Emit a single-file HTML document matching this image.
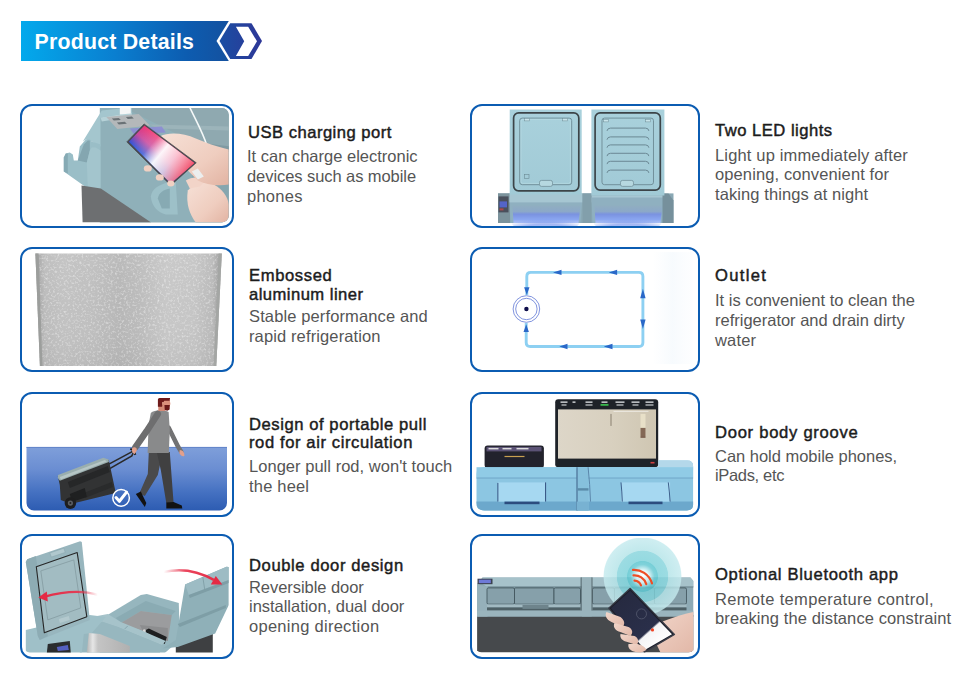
<!DOCTYPE html>
<html><head><meta charset="utf-8">
<style>
*{margin:0;padding:0;box-sizing:border-box}
html,body{width:963px;height:680px;background:#fff;overflow:hidden}
body{position:relative;font-family:"Liberation Sans",sans-serif}
.abs{position:absolute}
.banner{position:absolute;left:21px;top:21px;width:208px;height:40px;background:linear-gradient(90deg,#03a9ec 0%,#0a7fd0 45%,#0d5cb0 80%,#14519f 100%)}
.banner span{position:absolute;left:13.6px;top:8.6px;letter-spacing:0.22px;color:#fff;font-weight:bold;font-size:21.3px;line-height:24px;white-space:nowrap}
.card{position:absolute;border:2px solid #0b5cb2;border-radius:12px;overflow:hidden;background:#fff}
.L{left:20.2px;width:213.6px}
.R{left:469.5px;width:230px}
.r1{top:103.6px;height:124.4px}
.r2{top:246.9px;height:125px}
.r3{top:392.1px;height:124.8px}
.r4{top:534.1px;height:124.7px}
.card svg{position:absolute;left:-2px;top:-2px}
.t{position:absolute;font-size:16.6px;letter-spacing:0.45px;-webkit-text-stroke:0.45px #1c1c1c;line-height:18.5px;color:#1c1c1c;white-space:nowrap}
.d{position:absolute;font-size:16.5px;line-height:19.7px;color:#555;white-space:nowrap}
</style></head><body>
<div class="banner"><span>Product Details</span></div>
<svg class="abs" style="left:210px;top:15px" width="60" height="52" viewBox="210 15 60 52">
  <defs><linearGradient id="hg" x1="0" x2="1"><stop offset="0" stop-color="#1a4ea3"/><stop offset="1" stop-color="#2e3797"/></linearGradient></defs>
  <polygon points="216.5,41 228.8,21 250,21 262.5,41 250,61 228.8,61" fill="#fff"/>
  <polygon points="219.5,41 230.2,23.2 251.5,23.2 262,41 251.5,59 230.2,59" fill="url(#hg)"/>
  <polygon points="235.9,26.8 248.2,26.8 257,41.3 248.2,55.9 235.9,55.9 244.2,41.3" fill="#fff"/>
</svg>

<!-- CARD1 -->
<div class="card L r1"><svg width="213.6" height="124.4" viewBox="20.2 103.6 213.6 124.4">
<defs>
<clipPath id="c1"><rect x="24" y="107.5" width="205" height="114.5" rx="7"/></clipPath>
<linearGradient id="ph1" gradientUnits="userSpaceOnUse" x1="145" y1="124" x2="129" y2="142">
<stop offset="0" stop-color="#f0306e"/><stop offset="0.5" stop-color="#c8449a"/><stop offset="1" stop-color="#2650d8"/></linearGradient>
<linearGradient id="ph1b" gradientUnits="userSpaceOnUse" x1="136" y1="132" x2="186" y2="174">
<stop offset="0" stop-color="#fff" stop-opacity="0"/><stop offset="0.3" stop-color="#fff" stop-opacity="0.2"/><stop offset="0.5" stop-color="#fff" stop-opacity="0.95"/><stop offset="0.7" stop-color="#ffe8ea" stop-opacity="0.8"/><stop offset="1" stop-color="#f2506a" stop-opacity="0.95"/></linearGradient>
<linearGradient id="sk1" x1="0" y1="0" x2="1" y2="1"><stop offset="0" stop-color="#f6e0d6"/><stop offset="0.6" stop-color="#efcdbf"/><stop offset="1" stop-color="#e2b3a2"/></linearGradient>
</defs>
<g clip-path="url(#c1)">
<!-- body face + side -->
<rect x="100" y="107" width="130" height="116" fill="#8fb0b9"/>
<!-- lid top (back) -->
<polygon points="128,107 230,107 230,151 188,149 178,134 132,111" fill="#8fa9b0"/>
<polygon points="150,124 230,126 230,130 158,128" fill="#9cb4ba"/>
<polygon points="188,141 230,146 230,152 190,149" fill="#7f9aa2"/>
<!-- right side darker -->
<polygon points="190,149 230,152 230,222 196,222" fill="#86a6af"/>
<!-- cable -->
<path d="M190,107 C197,122 203,132 207,145 C212,160 215,178 212,198" fill="none" stroke="#f4f8f8" stroke-width="1.6"/>
<!-- top slope surface -->
<polygon points="83,141 102,110 132,107 132,112 100.7,117 100.7,146 92,141 86,139" fill="#a4c6ce"/>
<polygon points="100.7,117 132,112 132,116 102,121" fill="#b6d2d8"/>
<!-- control panel -->
<polygon points="120,107 131,107 131,113 120,114" fill="#f4f6f6"/>
<polygon points="106.5,116.5 139,113.5 150,125 117.5,128.5" fill="#b4b8ba"/>
<polygon points="112,118 119,117.5 121,119.5 114,120" fill="#6a7276"/>
<polygon points="117,122 125,121.3 127,123.4 119,124" fill="#6a7276"/>
<polygon points="126,116.5 132,116 134,118 128,118.5" fill="#6a7276"/>
<polygon points="130,128 162,126 166,132 134,133.5" fill="#8c8ad6" opacity="0.85"/>
<!-- left cup holder -->
<polygon points="64,157 66,153 70,152 73,154 74,160 78,160 80,146 86,139 90,139 92,141 100.7,144 100.7,190 88,188 64,171" fill="#9abec7"/>
<polygon points="64,157 66,153 68,153 68,173 64,171" fill="#86aab4"/>
<polygon points="78,160 84,144 88,140 90,140 90,150 87,162" fill="#84a6b0"/>
<polygon points="87,162 90,150 92,147 96,147 100.7,150 100.7,190 88,188" fill="#a3c5cd"/>
<!-- dark fabric -->
<polygon points="81.7,185 101,188 151.3,222 82.8,222" fill="#6d6f71"/>
<!-- right cup holder -->
<path d="M151,196 C152,188 160,184 168,182 L176,182 L178,214 L166,214 C158,212 152,206 151,196Z" fill="#9dc0c8"/>
<path d="M158,198 C159,192 164,189 170,188 L170,208 L162,208 Z" fill="#87aab3"/>
<!-- lower hand -->
<path d="M188,190 C195,182 206,180 214,184 C222,188 228,196 229,204 L229,222 L196,222 C190,214 186,204 188,190Z" fill="url(#sk1)"/>
<path d="M186,180 C192,176 200,176 206,180 L200,186 L190,188Z" fill="#f2d4c8"/>
<!-- upper hand/wrist -->
<path d="M160,136 C170,131 184,133 196,138 C206,142 216,146 229,149 L229,184 C218,186 206,184 198,180 L186,168 C178,158 168,146 160,136Z" fill="url(#sk1)"/>
<!-- phone -->
<polygon points="127,141.5 144.3,123.5 196.5,162.4 171,185" fill="#48484e" stroke="#48484e" stroke-width="0.6" stroke-linejoin="round"/>
<polygon points="129,141.4 144.6,125.2 194.5,162.5 171,183" fill="url(#ph1)"/>
<polygon points="129,141.4 144.6,125.2 194.5,162.5 171,183" fill="url(#ph1b)"/>
<!-- fingertips -->
<ellipse cx="148" cy="168" rx="4" ry="3.2" fill="#f0d0c2"/>
<ellipse cx="160" cy="177" rx="4" ry="3.2" fill="#f0d0c2"/>
<ellipse cx="171" cy="183" rx="3.6" ry="3" fill="#f0d0c2"/>
<!-- plug -->
<polygon points="192,171 198,168 204,176 198,179" fill="#eceeee"/>
</g>

</svg></div>
<!-- CARD2 -->
<div class="card L r2"><svg width="213.6" height="125" viewBox="20.2 246.9 213.6 125">
<defs>
<linearGradient id="al" gradientUnits="userSpaceOnUse" x1="35.6" y1="0" x2="222" y2="0">
<stop offset="0" stop-color="#959595"/><stop offset="0.02" stop-color="#aaaaaa"/><stop offset="0.05" stop-color="#bcbcbc"/>
<stop offset="0.15" stop-color="#c2c2c2"/><stop offset="0.3" stop-color="#bfbfbf"/><stop offset="0.45" stop-color="#b7b7b7"/>
<stop offset="0.55" stop-color="#bbbbbb"/><stop offset="0.7" stop-color="#c7c7c7"/><stop offset="0.85" stop-color="#c5c5c5"/>
<stop offset="0.95" stop-color="#bababa"/><stop offset="0.975" stop-color="#a9a9a9"/><stop offset="1" stop-color="#a0a0a0"/></linearGradient>
<linearGradient id="alv" x1="0" y1="0" x2="0" y2="1">
<stop offset="0" stop-color="#fff" stop-opacity="0.05"/><stop offset="0.5" stop-color="#fff" stop-opacity="0"/><stop offset="1" stop-color="#000" stop-opacity="0.03"/></linearGradient>
<filter id="nz" x="0" y="0" width="1" height="1"><feTurbulence type="fractalNoise" baseFrequency="0.45" numOctaves="2" seed="3" result="n"/>
<feColorMatrix in="n" type="matrix" values="0 0 0 0 1  0 0 0 0 1  0 0 0 0 1  0 0 0 1.1 -0.55" result="w"/>
<feComposite in="w" in2="SourceGraphic" operator="in" result="wc"/>
<feMerge><feMergeNode in="SourceGraphic"/><feMergeNode in="wc"/></feMerge></filter>
</defs>
<polygon points="35.6,253.3 222,253.3 216.5,365.8 40.1,365.8" fill="url(#al)" filter="url(#nz)"/>
<polygon points="35.6,253.3 222,253.3 216.5,365.8 40.1,365.8" fill="url(#alv)"/>
<polygon points="35.6,253.3 38.8,253.3 42.6,365.8 40.1,365.8" fill="#9c9e9c"/>
<polygon points="218.8,253.3 222,253.3 216.5,365.8 213.8,365.8" fill="#a4a6a4"/>

</svg></div>
<!-- CARD3 -->
<div class="card L r3"><svg width="213.6" height="124.8" viewBox="20.2 392.1 213.6 124.8">
<defs>
<linearGradient id="fl" x1="0" y1="0" x2="0" y2="1">
<stop offset="0" stop-color="#7f9fda"/><stop offset="0.35" stop-color="#6b8ed2"/><stop offset="0.7" stop-color="#4672c2"/><stop offset="1" stop-color="#2d5cb2"/></linearGradient>
</defs>
<!-- floor -->
<path d="M26.7,447 H227.2 V503 A7.5,7.5 0 0 1 219.7,510.5 H34.2 A7.5,7.5 0 0 1 26.7,503 Z" fill="url(#fl)"/>
<rect x="26.7" y="447" width="200.5" height="1" fill="#6283c8"/>
<!-- handle -->
<path d="M104,467 L131,452.5 L133.5,451" stroke="#2a2a2a" stroke-width="1.6" fill="none"/>
<path d="M106,471 L132,456 L134,452" stroke="#2a2a2a" stroke-width="1.6" fill="none"/>
<path d="M130.5,449 L134,450.5 L135.5,455" stroke="#222" stroke-width="2" fill="none"/>
<!-- cooler body -->
<polygon points="58,476 104,459 109,460 116,493 71,504 61,500 60,485" fill="#323334"/>
<polygon points="68,482 108,466 110,472 70,488" fill="#262728"/>
<polygon points="84,493 112,482 113,487 85,498" fill="#2a2b2c"/>
<!-- lid -->
<polygon points="58.2,475 103.5,457.8 108.9,459.7 109,462 60.1,480.8 58,478" fill="#9aaeae"/>
<polygon points="60,477 105,460 107,461.5 61,479.5" fill="#b6c6c6"/>
<!-- vent texture -->
<polygon points="70,494 85,488 87,497 72,502" fill="#1f2021"/>
<!-- wheel -->
<circle cx="70.6" cy="503.2" r="5.8" fill="#1e1e1f"/>
<circle cx="70.6" cy="503.2" r="2.6" fill="#5a5d62"/>
<circle cx="70.6" cy="503.2" r="1" fill="#222"/>
<!-- checkmark -->
<circle cx="121.3" cy="498" r="8.3" fill="none" stroke="#fff" stroke-width="1.5"/>
<path d="M116.2,497.6 L119.6,501.4 L126.8,492.2" stroke="#fff" stroke-width="3" fill="none" stroke-linecap="round" stroke-linejoin="round"/>
<!-- person: far arm -->
<path d="M169,428 L178.4,447 L181.5,452" stroke="#727273" stroke-width="4.6" fill="none" stroke-linecap="round" stroke-linejoin="round"/>
<path d="M180,450 C183,450 185,453 184.5,456 C182.5,457 180.5,455 179.5,453Z" fill="#e3a08c"/>
<!-- legs -->
<path d="M149,452 L163,452 L158,475 L145,496 L139.5,493.5 L148,474Z" fill="#4a4a4b"/>
<path d="M157,452 L170,452 L173.8,503 L166.5,503 L161,470Z" fill="#404041"/>
<!-- shoes -->
<path d="M136,494 L141,491.5 L146.5,503 L145,507 Z" fill="#121212"/>
<path d="M166.5,502.5 L173.8,502 L182,505.5 L182.5,508.5 L166.5,508.5 Z" fill="#121212"/>
<!-- torso -->
<path d="M151,413 C154,409.5 165,409.5 168.8,412 L170,430 L169,453 L147.8,453 L148.8,425 Z" fill="#898a8b"/>
<!-- near arm -->
<path d="M158,414 L147,431 L135.5,447.5" stroke="#6e6e6f" stroke-width="6.5" fill="none" stroke-linecap="round" stroke-linejoin="round"/>
<path d="M132.5,448 C134.5,446.5 137.5,447.5 137,450.5 L135,454 C133,454 131.5,451 132.5,448Z" fill="#e3a08c"/>
<!-- neck/head -->
<path d="M158.5,404 L165.5,404 L165.5,411 L158.5,411 Z" fill="#d48a76"/>
<path d="M163,400 L170,400 L170.6,404 L169.8,406.5 L164,406.5 Z" fill="#dc907c"/>
<path d="M158.1,399.5 Q158.5,398.2 160,398.2 H170.3 L169.8,400.8 H164.5 L163.8,402 L162.8,402 L162.3,406.8 L158.1,406.8 Z" fill="#6e1a1a"/>
<path d="M162.4,402 L164,402 L164,405 L162.4,405 Z" fill="#d48a76"/>
<path d="M164.6,405.2 L170,405.2 L169.8,409.5 L167.5,410.8 L165,410.2 Z" fill="#6a1818"/>

</svg></div>
<!-- CARD4 -->
<div class="card L r4"><svg width="213.6" height="124.7" viewBox="20.2 534.1 213.6 124.7">
<defs>
<clipPath id="c4"><rect x="24" y="538" width="205" height="114.6" rx="6"/></clipPath>
<linearGradient id="ra1" gradientUnits="userSpaceOnUse" x1="98" y1="595" x2="40" y2="597"><stop offset="0" stop-color="#e8304a" stop-opacity="0"/><stop offset="0.35" stop-color="#e8304a" stop-opacity="0.9"/><stop offset="1" stop-color="#e52a45"/></linearGradient>
<linearGradient id="ra2" gradientUnits="userSpaceOnUse" x1="164" y1="572" x2="222" y2="584"><stop offset="0" stop-color="#e8304a" stop-opacity="0"/><stop offset="0.35" stop-color="#e8304a" stop-opacity="0.9"/><stop offset="1" stop-color="#e52a45"/></linearGradient>
<linearGradient id="ss" gradientUnits="userSpaceOnUse" x1="87" y1="0" x2="130" y2="0"><stop offset="0" stop-color="#b4b4b4"/><stop offset="0.14" stop-color="#e6e6e6"/><stop offset="0.26" stop-color="#c4c4c4"/><stop offset="0.6" stop-color="#bbbbbb"/><stop offset="1" stop-color="#b0b0b0"/></linearGradient>
</defs>
<g clip-path="url(#c4)">
<!-- right dark base -->
<polygon points="176,636 213,632 213,653 176,653" fill="#3e4042"/>
<!-- middle compartment -->
<polygon points="106,616 141,595 147,594 179,603 180,640 165,653 100,653 92,634" fill="#96b6be"/>
<polygon points="116,618 146,601 176,611 172,615 141,611 121,623" fill="#8aabb3"/>
<polygon points="121,623 141,611 172,615 168,641 143,631" fill="#9b9c9e"/>
<polygon points="140,625 168,628 168,641 143,631" fill="#8c8d8f"/>
<polygon points="144,631 149,628.5 167,637 165,644" fill="#1e1f20"/>
<circle cx="144.5" cy="631" r="1.6" fill="#d8d8d8"/>
<polygon points="92,617 108,614 121,622 143,631 166,641 162,645 140,636 118,627 100,621" fill="#a6c3ca"/>
<polygon points="80,627 92,617 100,621 118,627 140,636 162,645 160,653 80,653" fill="#97b7bf"/>
<line x1="125" y1="629" x2="128" y2="626" stroke="#7c9ca4" stroke-width="0.8"/>
<!-- right lid -->
<polygon points="185.3,584.7 226.7,566.8 229,567 229,605 215.4,633.7 178,647 162.7,648.7 176,640" fill="#8fb0b8"/>
<polygon points="185.3,584.7 226.7,566.8 229,567 229,580 218,584 189,595" fill="#9dbcc4"/>
<polygon points="189,595 229,580 229,583 190,598" fill="#7e9ea6"/>
<polygon points="178,624 226,605 226,608 180,627" fill="#7e9ea6"/>
<line x1="203" y1="577" x2="205" y2="590" stroke="#7c9aa2" stroke-width="0.8"/>
<!-- left stainless interior -->

<!-- left front rim / base -->
<polygon points="26,630 90,615 106,617 92,633 84,634 82,653 26,653" fill="#9fc0c8"/>
<polygon points="89,633 100,634 130,646 130,653 87,653" fill="url(#ss)"/>
<polygon points="48,644 70,641 71,653 47,653" fill="#2a2c2e"/>
<polygon points="57,647 68,645 69,650 58,651" fill="#5560c0"/>
<!-- left lid -->
<polygon points="27.5,559.3 80.3,541.4 82,542 90,620 40,640 38,636 26,562" fill="#98b6be"/>
<polygon points="27.5,559.3 36,556 48,636 40,640 38,636 26,562" fill="#8dacb4"/>
<polygon points="36.5,566.8 77.4,552.7 87,616.8 44.5,632.8" fill="#a2bcc2" stroke="#262626" stroke-width="1.1" stroke-linejoin="round"/>
<polygon points="41,571 74,560 81,608 48,620" fill="none" stroke="#7f979c" stroke-width="0.7"/>
<polygon points="50,553 64,548.3 65.5,552.5 51.5,557.2" fill="#b0c8ce" stroke="#86a2a9" stroke-width="0.5"/>
<polygon points="59,619 69,616 70,620 60,623" fill="#b3c9ce"/>
<!-- arrows -->
<path d="M98,595 C82,590 62,592 44,597" stroke="url(#ra1)" stroke-width="2.4" fill="none"/>
<polygon points="38.5,597.5 47,591.5 48,601.5" fill="#e52a45"/>
<path d="M164,572 C182,568 200,572 214,580" stroke="url(#ra2)" stroke-width="2.4" fill="none"/>
<polygon points="222.5,584.5 211,584.5 216,576" fill="#e52a45"/>
</g>

</svg></div>
<!-- CARD5 -->
<div class="card R r1"><svg width="230" height="124.4" viewBox="469.5 103.6 230 124.4">
<defs>
<linearGradient id="lid5" x1="0" y1="0" x2="0" y2="1"><stop offset="0" stop-color="#a9d1dc"/><stop offset="1" stop-color="#a1cad6"/></linearGradient>
<linearGradient id="glow5" x1="0" y1="0" x2="0" y2="1"><stop offset="0" stop-color="#90aec0"/><stop offset="0.35" stop-color="#8ca8c8"/><stop offset="0.5" stop-color="#7a92e0"/><stop offset="0.8" stop-color="#8aa6f0"/><stop offset="1" stop-color="#b0c4f4"/></linearGradient>
<radialGradient id="gl5" cx="0.5" cy="1" r="0.7"><stop offset="0" stop-color="#c6d6ff"/><stop offset="0.6" stop-color="#7d98ee" stop-opacity="0.7"/><stop offset="1" stop-color="#7d98ee" stop-opacity="0"/></radialGradient>
</defs>
<!-- base -->
<rect x="497.5" y="193" width="175.5" height="29.6" fill="#8aa8b4"/>
<rect x="497.5" y="193" width="12" height="29.6" fill="#7c939c"/>
<rect x="498" y="196" width="10" height="16" fill="#4a505c"/>
<rect x="499" y="201" width="7.5" height="6" fill="#5464c8"/>
<rect x="499" y="208" width="4" height="2" fill="#b04848"/>
<!-- left compartment interior -->
<polygon points="509,197 582,197 580,222.6 510,222.6" fill="#8fb0c0"/>
<polygon points="512,205 580,205 578,222.6 513,222.6" fill="url(#glow5)"/>
<ellipse cx="545" cy="222" rx="34" ry="10" fill="url(#gl5)"/>
<rect x="509" y="193" width="73" height="9" fill="#a6c6d2"/>
<rect x="591" y="195" width="72" height="7" fill="#a6c6d2"/>
<!-- divider -->
<rect x="582" y="193" width="9" height="29.6" fill="#829fab"/>
<!-- right compartment interior -->
<polygon points="591,197 664,197 662,222.6 592,222.6" fill="#8fb0c0"/>
<polygon points="594,205 662,205 660,222.6 595,222.6" fill="url(#glow5)"/>
<ellipse cx="627" cy="222" rx="34" ry="10" fill="url(#gl5)"/>
<!-- right side -->
<polygon points="662,193 668,193 673,200 673,222.6 662,222.6" fill="#76909c"/>
<!-- left lid -->
<rect x="509.2" y="109.1" width="72" height="85" fill="url(#lid5)"/>
<rect x="513.1" y="112.5" width="65.2" height="77.9" rx="5" fill="none" stroke="#3c4448" stroke-width="1.7"/>
<rect x="519.2" y="117.7" width="52" height="66.6" rx="2.5" fill="none" stroke="#6c8a94" stroke-width="0.9"/>
<rect x="520.5" y="119" width="49.4" height="64" rx="2" fill="none" stroke="#bfe0e8" stroke-width="0.5"/>
<rect x="524" y="118" width="5" height="2.5" fill="#c8e4ea" stroke="#6c8a94" stroke-width="0.5"/>
<rect x="562" y="118" width="5" height="2.5" fill="#c8e4ea" stroke="#6c8a94" stroke-width="0.5"/>
<rect x="524" y="174" width="4.5" height="4" fill="none" stroke="#6c8a94" stroke-width="0.6"/>
<rect x="539" y="180" width="13" height="6" rx="2" fill="#b6d8e0" stroke="#6c8a94" stroke-width="0.7"/>
<!-- right lid -->
<rect x="590.9" y="109.1" width="73" height="86" fill="url(#lid5)"/>
<rect x="594.6" y="112.5" width="65.2" height="77.2" rx="5" fill="none" stroke="#3c4448" stroke-width="1.7"/>
<rect x="601.5" y="117.7" width="51.5" height="66.6" rx="2.5" fill="none" stroke="#6c8a94" stroke-width="0.9"/>
<rect x="603" y="119" width="5" height="2.5" fill="#c8e4ea" stroke="#6c8a94" stroke-width="0.5"/>
<rect x="645" y="119" width="5" height="2.5" fill="#c8e4ea" stroke="#6c8a94" stroke-width="0.5"/>
<g fill="none" stroke="#6a8894" stroke-width="1">
<path d="M606.5,130.5 Q607,127.7 610,127.7 H645 Q648,127.7 648.4,130.5"/>
<path d="M606.5,139.3 Q607,136.5 610,136.5 H645 Q648,136.5 648.4,139.3"/>
<path d="M606.5,147.3 Q607,144.5 610,144.5 H645 Q648,144.5 648.4,147.3"/>
<path d="M606.5,155.7 Q607,152.9 610,152.9 H645 Q648,152.9 648.4,155.7"/>
<path d="M606.5,163.7 Q607,160.9 610,160.9 H645 Q648,160.9 648.4,163.7"/>
<path d="M606.5,172.5 Q607,169.7 610,169.7 H645 Q648,169.7 648.4,172.5"/>
</g>
<rect x="620" y="180" width="13" height="6" rx="2" fill="#b6d8e0" stroke="#6c8a94" stroke-width="0.7"/>

</svg></div>
<!-- CARD6 -->
<div class="card R r2"><svg width="230" height="125" viewBox="469.5 246.9 230 125">
<defs>
<linearGradient id="fa6" x1="0" y1="0" x2="1" y2="0"><stop offset="0" stop-color="#e8f2fb" stop-opacity="0"/><stop offset="0.5" stop-color="#e4f0fa"/><stop offset="1" stop-color="#eef5fc" stop-opacity="0.4"/></linearGradient>
</defs>
<rect x="652" y="252" width="40" height="112" fill="url(#fa6)" opacity="0.3"/>
<path d="M526.3,295 V276.3 Q526.3,272.3 530.3,272.3 H638.4 Q642.4,272.3 642.4,276.3 V342.4 Q642.4,346.4 638.4,346.4 H529.7 Q525.7,346.4 525.7,342.4 V323" fill="none" stroke="#8dd0f2" stroke-width="2.9"/>
<g fill="#2a68c8">
<polygon points="552.5,272.3 561,269.6 561,275"/>
<polygon points="608.2,272.3 616.6,269.6 616.6,275"/>
<polygon points="558.8,346.4 567,343.7 567,349.1"/>
<polygon points="603.2,346.4 612,343.7 612,349.1"/>
<polygon points="526.3,295 523.6,287.2 529,287.2"/>
<polygon points="525.7,324.2 523,332 528.4,332"/>
<polygon points="642.4,288.7 639.7,298.2 645.1,298.2"/>
<polygon points="642.4,328.8 639.7,319.5 645.1,319.5"/>
</g>
<circle cx="525.9" cy="308.9" r="13.3" fill="none" stroke="#4a66d0" stroke-width="0.7"/>
<circle cx="525.9" cy="308.9" r="10.7" fill="none" stroke="#4a66d0" stroke-width="0.7"/>
<circle cx="525.9" cy="308.9" r="2.2" fill="#0e0e4a"/>

</svg></div>
<!-- CARD7 -->
<div class="card R r3"><svg width="230" height="124.8" viewBox="469.5 392.1 230 124.8">
<defs>
<linearGradient id="b7" x1="0" y1="0" x2="0" y2="1"><stop offset="0" stop-color="#93c6e0"/><stop offset="1" stop-color="#86bcd8"/></linearGradient>
<linearGradient id="scr7" x1="0" y1="0" x2="1" y2="0"><stop offset="0" stop-color="#ddd6c8"/><stop offset="0.55" stop-color="#d8d0bf"/><stop offset="1" stop-color="#cfc6b2"/></linearGradient>
</defs>
<!-- tablet -->
<rect x="554.7" y="399.4" width="103" height="68" rx="3" fill="#1e2228"/>
<rect x="557.5" y="409.5" width="98" height="49.2" fill="url(#scr7)"/>
<g fill="#c9ccd0">
<rect x="560" y="401.5" width="7" height="1.5"/><rect x="561" y="404.5" width="5" height="1.2"/>
<rect x="572" y="401.5" width="3" height="1.5"/>
<rect x="585" y="401.5" width="7" height="1.5"/><rect x="585" y="404.5" width="7" height="1.2"/>
<rect x="601" y="401.5" width="6" height="1.5"/>
<rect x="615" y="401.5" width="9" height="1.5"/><rect x="616" y="404.5" width="7" height="1.2"/>
<rect x="631" y="401.5" width="8" height="1.5"/><rect x="632" y="404.5" width="6" height="1.2"/>
<rect x="645" y="401.5" width="8" height="1.5"/><rect x="645" y="404.5" width="8" height="1.2"/>
</g>
<rect x="600" y="404.2" width="8" height="1.6" fill="#3cc850"/>
<rect x="613" y="411" width="35" height="0.8" fill="#fff" opacity="0.7"/>
<rect x="640" y="414" width="5" height="22" fill="#e8e0c8"/>
<rect x="640" y="428" width="5" height="10" fill="#6a4a3a" opacity="0.8"/>
<rect x="610" y="414" width="1" height="12" fill="#8a8070"/>
<rect x="650" y="462" width="4" height="1.6" fill="#d04040"/>
<!-- phone -->
<rect x="484.1" y="445.5" width="59.3" height="22.6" rx="3" fill="#22222c"/>
<rect x="486" y="447" width="55" height="4.5" fill="#6a5f88" opacity="0.8"/>
<rect x="488" y="448" width="10" height="1.5" fill="#ddd"/><rect x="502" y="448" width="9" height="1.5" fill="#ddd"/><rect x="516" y="448" width="12" height="1.5" fill="#ddd"/>
<rect x="504" y="456" width="20" height="1.2" fill="#c8a050"/>
<!-- base -->
<path d="M476,474 Q476,467.3 483,467.3 H658 V460.5 H687 Q692.6,460.5 692.6,466 V504.5 Q692.6,510.6 686.5,510.6 H484 Q476,510.6 476,503 Z" fill="#8cc6e2"/>
<path d="M658,460.5 H687 Q692.6,460.5 692.6,466 V470 H658 Z" fill="#b4d8ea"/>
<rect x="476" y="467.3" width="216.6" height="10.5" fill="#90cbe6"/>
<rect x="476" y="477.6" width="216.6" height="1.1" fill="#74aacb"/>
<path d="M476,501.7 H692.6 V504.5 Q692.6,510.6 686.5,510.6 H484 Q476,510.6 476,503 Z" fill="#6ca8cc"/>
<!-- front panels -->
<rect x="497.3" y="482.5" width="47.5" height="19.2" fill="#a6d8f1"/>
<rect x="620.8" y="482.5" width="48.8" height="19.2" fill="#a6d8f1"/>
<rect x="496.8" y="483" width="1.1" height="18.7" fill="#3e5f8c"/>
<rect x="544.5" y="482.5" width="1.1" height="19.2" fill="#3a5a88"/>
<path d="M620.5,482.5 Q621.5,492 621.8,501.7" stroke="#3e5f8c" stroke-width="1" fill="none"/>
<path d="M667.8,482.5 Q669,492 669.6,501.7" stroke="#3e5f8c" stroke-width="1" fill="none"/>
<rect x="504" y="501.7" width="35" height="2.6" fill="#2c4c7e"/>
<rect x="628" y="501.7" width="34" height="2.6" fill="#2c4c7e"/>
<!-- center divider -->
<rect x="576.2" y="467.3" width="11.8" height="43.3" fill="#86c0dc"/>
<rect x="576" y="467.3" width="1" height="43.3" fill="#3e6088"/>
<path d="M587.6,467.3 Q589.5,485 590,501.7" stroke="#5a86aa" stroke-width="1" fill="none"/>
<rect x="577" y="488.3" width="11" height="2.4" fill="#5a8aa8"/>
<rect x="576.2" y="501.7" width="11.8" height="8.9" fill="#78b2d2"/>

</svg></div>
<!-- CARD8 -->
<div class="card R r4"><svg width="230" height="124.7" viewBox="469.5 534.1 230 124.7">
<defs>
<clipPath id="c8"><rect x="474" y="538" width="221" height="114.5" rx="7"/></clipPath>
<linearGradient id="top8" x1="0" y1="0" x2="0" y2="1"><stop offset="0" stop-color="#a2bcc6"/><stop offset="0.3" stop-color="#8ca8b4"/><stop offset="1" stop-color="#7f9aa6"/></linearGradient>
<radialGradient id="bt8" cx="0.5" cy="0.5" r="0.5">
<stop offset="0" stop-color="#ffffff"/><stop offset="0.15" stop-color="#e0f6f8"/><stop offset="0.3" stop-color="#64c8d2"/><stop offset="0.38" stop-color="#58c4ce"/><stop offset="0.4" stop-color="#7ed2da"/><stop offset="0.64" stop-color="#86d4dc"/><stop offset="0.66" stop-color="#b4e4e8"/><stop offset="0.97" stop-color="#c4eaee"/><stop offset="1" stop-color="#c4eaee" stop-opacity="0"/></radialGradient>
<linearGradient id="sk8" x1="0" y1="0" x2="1" y2="1"><stop offset="0" stop-color="#f2d6ca"/><stop offset="1" stop-color="#e2b8a8"/></linearGradient>
<linearGradient id="ph8" gradientUnits="userSpaceOnUse" x1="618" y1="598" x2="660" y2="645"><stop offset="0" stop-color="#262a40"/><stop offset="0.7" stop-color="#2a2f4a"/><stop offset="0.73" stop-color="#f4f4f6"/><stop offset="1" stop-color="#ffffff"/></linearGradient>
</defs>
<g clip-path="url(#c8)">
<!-- cooler lower body -->
<path d="M476.6,615 H692.8 V652.5 H476.6 Z" fill="#46494c"/>
<rect x="476.6" y="615" width="216" height="2" fill="#3a3d40"/>
<!-- cooler upper -->
<polygon points="476.6,584 482,577.5 690,577.5 692.8,581 692.8,616.7 476.6,616.7" fill="#8eaab5"/>
<polygon points="482,577.5 690,577.5 692.8,581 692.8,587 487,587 482,584" fill="#a6c2ca"/>
<rect x="487" y="586.5" width="205.8" height="1.2" fill="#6f8891"/>
<rect x="477" y="578.8" width="15" height="5.5" fill="#3c4252"/>
<rect x="478.3" y="579.8" width="12" height="3.4" fill="#6e7ad8"/>
<polygon points="476.6,584 487,587 487,616.7 476.6,616.7" fill="#95b0ba"/>
<!-- front panels -->
<g fill="#86a0aa" stroke="#3e5058" stroke-width="0.8">
<rect x="486.5" y="588" width="27.5" height="16.3" rx="1.5"/>
<rect x="514" y="588" width="39.5" height="16.3" rx="1"/>
<rect x="553.5" y="588" width="26.5" height="16.3" rx="1.5"/>
<rect x="592" y="588" width="22" height="16.3" rx="1.5"/>
<rect x="614" y="588" width="40" height="16.3" rx="1"/>
<rect x="654" y="588" width="32" height="16.3" rx="1.5"/>
</g>
<rect x="486.5" y="604.5" width="93.5" height="3" fill="#a2bac2"/>
<rect x="592" y="604.5" width="94" height="3" fill="#a2bac2"/>
<rect x="486.5" y="607.5" width="93.5" height="3.2" fill="#4e6066"/>
<rect x="592" y="607.5" width="94" height="3.2" fill="#4e6066"/>
<rect x="522" y="605" width="26" height="4" fill="#6e848c"/>
<rect x="580.2" y="577.5" width="1" height="39" fill="#3e4c52"/>
<rect x="581.2" y="577.5" width="10.3" height="39" fill="#9ab4bc"/>
<rect x="591" y="577.5" width="1" height="39" fill="#56686e"/>
<rect x="476.6" y="610.7" width="216.2" height="6" fill="#9ab4bd"/>
<!-- bluetooth rings -->
<circle cx="642" cy="576.5" r="39.5" fill="url(#bt8)" opacity="0.82"/>
<g fill="none" stroke="#ee4e26" stroke-width="2.2" stroke-linecap="round">
<path d="M632.5,570 C640,569.5 648.5,574 651.5,583.5"/>
<path d="M633,575.5 C638.5,575 644,578.5 645.8,584.3"/>
<path d="M634,580.8 C637,581 639.5,583 640.5,585.5"/>
</g>
<!-- hand back (right) -->
<path d="M648,628 C660,622 675,616 692.8,612 L692.8,652.5 L660,652.5 Z" fill="url(#sk8)"/>
<!-- phone -->
<polygon points="608.2,608.2 629.8,588.4 674,634.5 644,652.4" fill="#1c1e2a" stroke="#3a3d48" stroke-width="1.2" stroke-linejoin="round"/>
<polygon points="610.5,608.3 629.7,590.8 671.5,634.4 644.3,650" fill="url(#ph8)"/>
<circle cx="641" cy="614" r="5" fill="none" stroke="#555a70" stroke-width="0.8"/>
<circle cx="652" cy="630" r="1.6" fill="#f04020"/>
<!-- fingers -->
<g fill="url(#sk8)">
<path d="M606,612 C604,615 606,620 611,622 L622,627 C625,624 624,620 620,617 Z"/>
<path d="M614,623 C612,627 615,631 620,632 L630,636 C633,633 632,629 628,627 Z"/>
<path d="M620,634 C619,638 622,641 627,642 L636,645 C639,642 638,638 634,636 Z"/>
<path d="M628,644 C627,648 630,651 635,652 L640,653 L646,650 C645,647 641,645 637,644 Z"/>
</g>
</g>

</svg></div>

<!-- texts left -->
<div class="t" style="left:248px;top:124.0px;letter-spacing:0.487px">USB charging port</div>
<div class="d" style="left:247px;top:147.0px;letter-spacing:0.000px">It can charge electronic</div>
<div class="d" style="left:247px;top:166.5px;letter-spacing:-0.071px">devices such as mobile</div>
<div class="d" style="left:247px;top:186.5px;letter-spacing:0.260px">phones</div>
<div class="t" style="left:249px;top:267.0px;letter-spacing:0.621px">Embossed</div>
<div class="t" style="left:249px;top:286.0px;letter-spacing:0.465px">aluminum liner</div>
<div class="d" style="left:249px;top:307.1px;letter-spacing:0.124px">Stable performance and</div>
<div class="d" style="left:249px;top:326.6px;letter-spacing:0.122px">rapid refrigeration</div>
<div class="t" style="left:249px;top:415.7px;letter-spacing:0.564px">Design of portable pull</div>
<div class="t" style="left:249px;top:433.7px;letter-spacing:0.595px">rod for air circulation</div>
<div class="d" style="left:249px;top:457.4px;letter-spacing:0.033px">Longer pull rod, won&#39;t touch</div>
<div class="d" style="left:249px;top:476.8px;letter-spacing:0.186px">the heel</div>
<div class="t" style="left:249px;top:556.6px;letter-spacing:0.603px">Double door design</div>
<div class="d" style="left:249px;top:577.7px;letter-spacing:-0.057px">Reversible door</div>
<div class="d" style="left:249px;top:597.1px;letter-spacing:-0.027px">installation, dual door</div>
<div class="d" style="left:249px;top:616.8px;letter-spacing:0.275px">opening direction</div>
<div class="t" style="left:715px;top:121.9px;letter-spacing:0.496px">Two LED lights</div>
<div class="d" style="left:715px;top:145.5px;letter-spacing:0.156px">Light up immediately after</div>
<div class="d" style="left:715px;top:165.1px;letter-spacing:0.114px">opening, convenient for</div>
<div class="d" style="left:715px;top:185.2px;letter-spacing:0.086px">taking things at night</div>
<div class="t" style="left:715px;top:266.9px;letter-spacing:1.310px">Outlet</div>
<div class="d" style="left:715px;top:291.1px;letter-spacing:0.000px">It is convenient to clean the</div>
<div class="d" style="left:715px;top:310.6px;letter-spacing:-0.007px">refrigerator and drain dirty</div>
<div class="d" style="left:715px;top:330.7px;letter-spacing:0.175px">water</div>
<div class="t" style="left:715px;top:423.8px;letter-spacing:0.723px">Door body groove</div>
<div class="d" style="left:715px;top:447.1px;letter-spacing:-0.018px">Can hold mobile phones,</div>
<div class="d" style="left:715px;top:466.4px;letter-spacing:-0.333px">iPads, etc</div>
<div class="t" style="left:715px;top:565.9px;letter-spacing:0.674px">Optional Bluetooth app</div>
<div class="d" style="left:715px;top:589.6px;letter-spacing:0.331px">Remote temperature control,</div>
<div class="d" style="left:715px;top:609.1px;letter-spacing:0.103px">breaking the distance constraint</div>
</body></html>
